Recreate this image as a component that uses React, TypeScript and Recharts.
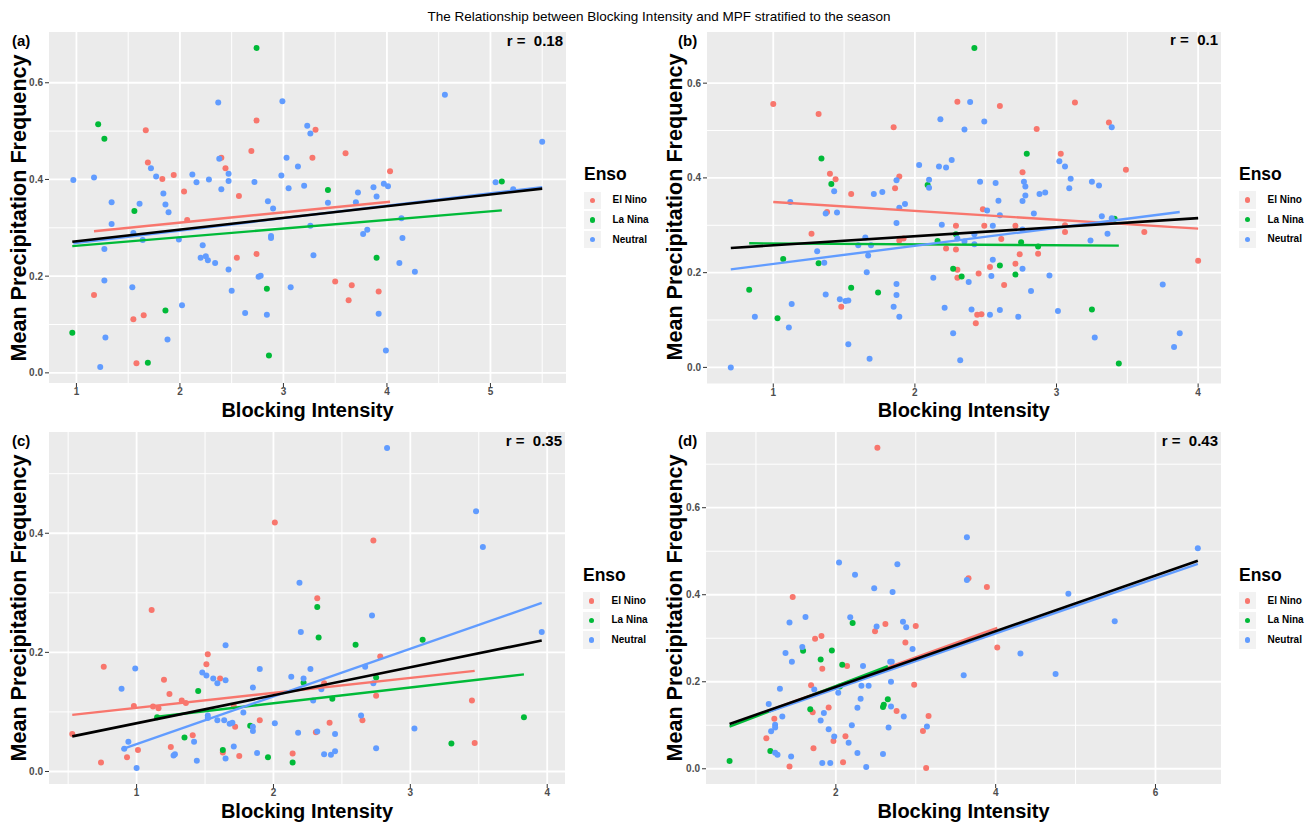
import { ScatterChart, Scatter, XAxis, YAxis, CartesianGrid } from 'recharts';

const FONT = '"Liberation Sans", Arial, Helvetica, sans-serif';
const COLORS = { elNino: '#F8766D', laNina: '#00BA38', neutral: '#619CFF', all: '#000000' };
const GROUPS = ['El Nino', 'La Nina', 'Neutral'];

type Pt = [number, number];

// ---- panel (a)
const aElNino: Pt[] = [[1.67,0.502],[1.69,0.435],[1.83,0.401],[1.94,0.409],[2.04,0.375],[2.07,0.316],[2.40,0.445],[2.44,0.423],[2.57,0.366],[2.69,0.459],[2.74,0.522],[2.74,0.246],[2.55,0.238],[1.17,0.161],[1.55,0.111],[1.65,0.119],[1.58,0.020],[3.31,0.503],[3.28,0.445],[3.60,0.454],[4.03,0.417],[3.50,0.189],[3.66,0.181],[3.63,0.150],[3.92,0.168]];
const aLaNina: Pt[] = [[2.74,0.672],[1.21,0.514],[1.27,0.484],[1.56,0.335],[1.86,0.129],[0.96,0.083],[1.69,0.021],[2.84,0.174],[2.86,0.036],[3.43,0.378],[3.90,0.238],[5.11,0.396]];
const aNeutral: Pt[] = [[0.97,0.399],[1.17,0.404],[1.34,0.353],[1.34,0.308],[1.27,0.256],[1.27,0.191],[1.28,0.073],[1.23,0.012],[1.54,0.177],[1.55,0.289],[1.61,0.350],[1.64,0.275],[1.72,0.423],[1.77,0.406],[1.84,0.371],[1.86,0.348],[1.89,0.332],[1.88,0.069],[1.99,0.276],[2.02,0.140],[2.12,0.410],[2.16,0.394],[2.28,0.400],[2.22,0.264],[2.20,0.238],[2.25,0.241],[2.27,0.233],[2.34,0.227],[2.37,0.559],[2.38,0.443],[2.40,0.380],[2.47,0.412],[2.47,0.397],[2.47,0.214],[2.50,0.170],[2.63,0.124],[2.72,0.395],[2.76,0.199],[2.78,0.201],[2.85,0.355],[2.90,0.340],[2.88,0.283],[2.88,0.279],[2.84,0.120],[2.98,0.408],[2.99,0.562],[3.03,0.445],[3.05,0.382],[3.07,0.177],[3.14,0.427],[3.20,0.387],[3.23,0.511],[3.26,0.495],[3.26,0.304],[3.29,0.243],[3.43,0.352],[3.70,0.353],[3.72,0.373],[3.77,0.287],[3.81,0.296],[3.87,0.384],[3.90,0.365],[3.97,0.391],[4.01,0.386],[4.14,0.320],[4.15,0.279],[4.12,0.227],[4.27,0.209],[3.92,0.122],[3.99,0.046],[4.56,0.575],[5.05,0.394],[5.22,0.380],[5.50,0.478]];
const aFitElNino: Pt[] = [[1.17,0.293],[4.03,0.354]];
const aFitLaNina: Pt[] = [[0.96,0.262],[5.11,0.336]];
const aFitNeutral: Pt[] = [[0.97,0.268],[5.50,0.384]];
const aFitAll: Pt[] = [[0.96,0.271],[5.50,0.381]];

// ---- panel (b)
const bElNino: Pt[] = [[1.00,0.556],[1.32,0.535],[1.85,0.507],[1.40,0.409],[1.44,0.397],[1.55,0.366],[1.38,0.328],[1.27,0.282],[1.86,0.378],[1.89,0.403],[1.89,0.268],[1.92,0.272],[1.48,0.128],[2.30,0.561],[2.29,0.299],[2.22,0.251],[2.29,0.249],[2.30,0.206],[2.30,0.189],[2.60,0.552],[2.86,0.503],[3.13,0.559],[3.37,0.517],[3.03,0.451],[3.49,0.417],[2.76,0.412],[2.48,0.334],[2.49,0.299],[2.71,0.299],[2.61,0.271],[3.06,0.300],[3.06,0.286],[3.62,0.286],[2.74,0.239],[2.87,0.240],[2.71,0.219],[2.53,0.212],[2.45,0.198],[2.63,0.174],[2.44,0.111],[2.47,0.112],[2.43,0.093],[4.00,0.225]];
const bLaNina: Pt[] = [[1.34,0.441],[1.41,0.387],[1.07,0.229],[1.32,0.220],[0.83,0.164],[1.03,0.104],[1.55,0.168],[1.74,0.158],[2.09,0.385],[2.16,0.267],[2.29,0.281],[2.27,0.208],[2.33,0.192],[2.42,0.674],[2.79,0.451],[2.75,0.264],[2.87,0.255],[2.60,0.215],[2.71,0.196],[3.25,0.122],[3.41,0.314],[3.44,0.008]];
const bNeutral: Pt[] = [[0.70,0.000],[0.87,0.107],[1.11,0.084],[1.13,0.134],[1.12,0.349],[1.37,0.325],[1.45,0.327],[1.43,0.372],[1.31,0.245],[1.36,0.221],[1.37,0.154],[1.47,0.144],[1.51,0.140],[1.53,0.141],[1.53,0.049],[1.60,0.258],[1.65,0.274],[1.69,0.258],[1.67,0.236],[1.66,0.201],[1.68,0.018],[1.71,0.366],[1.77,0.370],[1.87,0.395],[1.89,0.337],[1.93,0.345],[1.87,0.305],[1.87,0.176],[1.87,0.153],[1.85,0.128],[1.89,0.107],[2.03,0.427],[2.10,0.396],[2.10,0.379],[2.18,0.524],[2.17,0.424],[2.22,0.422],[2.26,0.438],[2.19,0.301],[2.13,0.189],[2.21,0.126],[2.27,0.072],[2.32,0.015],[2.30,0.272],[2.35,0.502],[2.35,0.266],[2.39,0.560],[2.49,0.519],[2.46,0.392],[2.57,0.389],[2.59,0.352],[2.51,0.331],[2.60,0.321],[2.55,0.299],[2.42,0.281],[2.42,0.260],[2.77,0.392],[2.78,0.382],[2.78,0.363],[2.76,0.351],[2.84,0.325],[2.88,0.366],[2.92,0.369],[2.76,0.291],[2.76,0.208],[2.55,0.227],[2.54,0.193],[2.38,0.180],[2.82,0.161],[2.95,0.194],[2.40,0.122],[2.53,0.111],[2.60,0.121],[2.73,0.107],[3.02,0.435],[3.06,0.424],[3.10,0.398],[3.09,0.378],[3.25,0.392],[3.30,0.384],[3.32,0.319],[3.36,0.282],[3.24,0.268],[3.39,0.507],[3.01,0.119],[3.27,0.063],[3.75,0.175],[3.83,0.043],[3.87,0.072],[3.39,0.315]];
const bFitElNino: Pt[] = [[1.00,0.349],[4.00,0.293]];
const bFitLaNina: Pt[] = [[0.83,0.262],[3.44,0.257]];
const bFitNeutral: Pt[] = [[0.70,0.207],[3.87,0.328]];
const bFitAll: Pt[] = [[0.70,0.252],[4.00,0.315]];

// ---- panel (c)
const cElNino: Pt[] = [[0.53,0.063],[0.76,0.176],[0.74,0.015],[0.93,0.024],[1.01,0.036],[0.98,0.110],[1.11,0.271],[1.12,0.109],[1.16,0.106],[1.20,0.154],[1.24,0.130],[1.25,0.041],[1.33,0.119],[1.36,0.115],[1.41,0.061],[1.51,0.180],[1.52,0.197],[1.61,0.156],[1.72,0.075],[1.75,0.026],[1.63,0.032],[1.90,0.086],[2.01,0.418],[2.14,0.030],[1.71,0.110],[2.73,0.388],[2.32,0.291],[2.78,0.193],[2.37,0.148],[2.75,0.127],[2.41,0.082],[2.65,0.086],[2.31,0.066],[3.45,0.119],[3.47,0.048]];
const cLaNina: Pt[] = [[1.45,0.135],[1.15,0.091],[1.35,0.057],[1.63,0.036],[1.83,0.077],[1.96,0.024],[2.14,0.015],[2.32,0.276],[2.33,0.225],[2.60,0.213],[3.09,0.221],[2.75,0.158],[2.22,0.149],[2.43,0.122],[3.30,0.047],[3.83,0.091]];
const cNeutral: Pt[] = [[0.89,0.139],[0.99,0.173],[0.91,0.038],[0.94,0.050],[1.00,0.006],[1.27,0.027],[1.28,0.029],[1.42,0.050],[1.44,0.018],[1.48,0.166],[1.51,0.161],[1.56,0.156],[1.59,0.148],[1.65,0.153],[1.65,0.212],[1.52,0.094],[1.52,0.090],[1.59,0.086],[1.64,0.086],[1.68,0.080],[1.70,0.082],[1.65,0.022],[1.71,0.042],[1.78,0.099],[1.85,0.141],[1.85,0.075],[1.85,0.068],[1.88,0.031],[1.90,0.172],[2.01,0.081],[2.13,0.159],[2.18,0.065],[2.19,0.317],[2.20,0.234],[2.83,0.543],[3.48,0.437],[3.53,0.377],[2.72,0.262],[2.22,0.156],[2.27,0.172],[2.35,0.138],[2.29,0.119],[2.67,0.176],[2.73,0.148],[2.64,0.094],[2.32,0.067],[2.45,0.063],[2.37,0.029],[2.42,0.028],[2.45,0.034],[2.75,0.039],[3.03,0.072],[3.96,0.234]];
const cFitElNino: Pt[] = [[0.53,0.095],[3.47,0.169]];
const cFitLaNina: Pt[] = [[1.15,0.092],[3.83,0.163]];
const cFitNeutral: Pt[] = [[0.89,0.037],[3.96,0.283]];
const cFitAll: Pt[] = [[0.53,0.059],[3.96,0.220]];

// ---- panel (d)
const dElNino: Pt[] = [[2.52,0.738],[1.46,0.395],[1.74,0.299],[1.82,0.305],[1.83,0.230],[2.49,0.316],[2.62,0.333],[3.00,0.328],[2.87,0.290],[2.98,0.193],[2.14,0.236],[1.69,0.192],[1.71,0.130],[1.91,0.141],[1.23,0.115],[1.13,0.070],[1.72,0.047],[1.97,0.064],[2.12,0.075],[2.09,0.015],[1.42,0.005],[2.76,0.133],[3.16,0.121],[3.09,0.087],[3.13,0.002],[3.66,0.438],[3.89,0.418],[4.02,0.279]];
const dLaNina: Pt[] = [[0.67,0.018],[1.18,0.041],[1.59,0.271],[1.95,0.272],[1.81,0.251],[2.08,0.239],[2.21,0.335],[1.68,0.137],[2.65,0.160],[2.60,0.147],[2.59,0.142],[2.05,0.189]];
const dNeutral: Pt[] = [[2.04,0.474],[2.24,0.446],[2.77,0.470],[2.48,0.415],[2.71,0.406],[1.42,0.336],[1.62,0.349],[2.18,0.348],[2.51,0.327],[2.84,0.338],[2.88,0.325],[1.37,0.266],[1.45,0.246],[1.58,0.280],[2.96,0.275],[2.34,0.236],[2.68,0.246],[2.70,0.246],[2.69,0.200],[1.73,0.182],[2.32,0.191],[2.41,0.191],[2.03,0.175],[1.30,0.184],[1.16,0.149],[2.31,0.161],[2.27,0.140],[2.69,0.143],[2.85,0.120],[1.33,0.120],[1.24,0.101],[1.24,0.095],[1.19,0.086],[1.85,0.128],[1.81,0.111],[1.91,0.091],[1.98,0.074],[2.20,0.100],[2.16,0.060],[2.66,0.095],[3.14,0.097],[1.24,0.037],[1.27,0.032],[1.44,0.028],[1.83,0.013],[1.93,0.013],[2.27,0.036],[2.59,0.034],[2.38,0.004],[3.64,0.532],[3.64,0.434],[3.60,0.215],[4.91,0.402],[5.49,0.339],[4.31,0.265],[4.75,0.218],[6.53,0.507]];
const dFitElNino: Pt[] = [[1.13,0.132],[4.02,0.324]];
const dFitLaNina: Pt[] = [[0.67,0.097],[2.65,0.236]];
const dFitNeutral: Pt[] = [[1.16,0.131],[6.53,0.471]];
const dFitAll: Pt[] = [[0.67,0.103],[6.53,0.478]];

const toXY = (pts: Pt[]) => pts.map(([x, y]) => ({ x, y }));

const dot = (color: string) => (props: any) => (
  <circle cx={props.cx} cy={props.cy} r={3} fill={color} />
);
const noDot = () => <g />;

interface PanelProps {
  tag: string;
  r: string;
  box: { x0: number; x1: number; y0: number; y1: number };
  tagX: number;
  yTitleX: number;
  xDomain: [number, number];
  yDomain: [number, number];
  xTicks: number[];
  xMinor: number[];
  yTicks: number[];
  yMinor: number[];
  points: [Pt[], Pt[], Pt[]];
  fits: [Pt[], Pt[], Pt[], Pt[]];
}

const YW = 40;
const XH = 22;

function Panel(p: PanelProps) {
  const { x0, x1, y0, y1 } = p.box;
  const w = x1 - x0;
  const h = y1 - y0;
  const midY = (y0 + y1) / 2;
  const legendX = x1 + 18;
  const legendY = midY - 32.5;
  const colors = [COLORS.elNino, COLORS.laNina, COLORS.neutral];
  const tickStyle = { fill: '#4D4D4D', fontSize: 10, fontWeight: 'bold', fontFamily: FONT };

  return (
    <>
      <div style={{ position: 'absolute', left: x0 - YW, top: y0, width: w + YW, height: h + XH }}>
        <ScatterChart width={w + YW} height={h + XH} margin={{ top: 0, right: 0, bottom: 0, left: 0 }}>
          <CartesianGrid fill="#EBEBEB" fillOpacity={1} stroke="#FFFFFF" strokeWidth={1} horizontalValues={p.yMinor} verticalValues={p.xMinor} />
          <CartesianGrid stroke="#FFFFFF" strokeWidth={1.8} horizontalValues={p.yTicks} verticalValues={p.xTicks} />
          <XAxis
            type="number"
            dataKey="x"
            domain={p.xDomain}
            ticks={p.xTicks}
            allowDataOverflow
            axisLine={false}
            tickSize={4}
            tickMargin={1}
            tickLine={{ stroke: '#333333' }}
            tick={tickStyle}
            height={XH}
            tickFormatter={(v: number) => String(v)}
          />
          <YAxis
            type="number"
            dataKey="y"
            domain={p.yDomain}
            ticks={p.yTicks}
            allowDataOverflow
            axisLine={false}
            tickSize={4}
            tickMargin={2}
            tickLine={{ stroke: '#333333' }}
            tick={tickStyle}
            width={YW}
            tickFormatter={(v: number) => v.toFixed(1)}
          />
          {p.points.map((pts, i) => (
            <Scatter key={GROUPS[i]} name={GROUPS[i]} data={toXY(pts)} shape={dot(colors[i])} isAnimationActive={false} />
          ))}
          {p.fits.map((pts, i) => (
            <Scatter
              key={'fit' + i}
              data={toXY(pts)}
              shape={noDot}
              line={{ stroke: i < 3 ? colors[i] : COLORS.all, strokeWidth: i < 3 ? 2.4 : 2.6 }}
              isAnimationActive={false}
            />
          ))}
        </ScatterChart>
      </div>

      <div style={{ position: 'absolute', left: p.tagX, top: y0 + 8, transform: 'translateY(-50%)', fontSize: 15, fontWeight: 'bold', lineHeight: 1 }}>
        {p.tag}
      </div>
      <div style={{ position: 'absolute', right: 1316 - (x1 - 3), top: y0 + 7.5, transform: 'translateY(-50%)', fontSize: 15, fontWeight: 'bold', lineHeight: 1, whiteSpace: 'pre' }}>
        {'r =  ' + p.r}
      </div>
      <div style={{ position: 'absolute', left: p.yTitleX, top: midY, transform: 'translate(-50%, -50%) rotate(-90deg)', fontSize: 21.6, fontWeight: 'bold', lineHeight: 1, whiteSpace: 'nowrap' }}>
        Mean Precipitation Frequency
      </div>
      <div style={{ position: 'absolute', left: (x0 + x1) / 2, top: y1 + 27, transform: 'translate(-50%, -50%)', fontSize: 20, fontWeight: 'bold', lineHeight: 1, whiteSpace: 'nowrap' }}>
        Blocking Intensity
      </div>

      <div style={{ position: 'absolute', left: legendX, top: legendY, transform: 'translateY(-50%)', fontSize: 17.5, fontWeight: 'bold', lineHeight: 1 }}>
        Enso
      </div>
      {GROUPS.map((g, i) => {
        const cy = legendY + 25.3 + i * 19.6;
        return (
          <div key={g}>
            <div style={{ position: 'absolute', left: legendX, top: cy - 8.6, width: 17.3, height: 17.3, background: '#F2F2F2' }}>
              <div style={{ position: 'absolute', left: 5.9, top: 5.9, width: 5.5, height: 5.5, borderRadius: '50%', background: colors[i] }} />
            </div>
            <div style={{ position: 'absolute', left: legendX + 28.5, top: cy, transform: 'translateY(-50%)', fontSize: 10, fontWeight: 'bold', lineHeight: 1, whiteSpace: 'nowrap' }}>
              {g}
            </div>
          </div>
        );
      })}
    </>
  );
}

export default function App() {
  return (
    <div style={{ position: 'absolute', left: 0, top: 0, width: 1316, height: 828, background: '#FFFFFF', fontFamily: FONT, color: '#000000', overflow: 'hidden' }}>
      <div style={{ position: 'absolute', left: 659, top: 17, transform: 'translate(-50%, -50%)', fontSize: 13.5, lineHeight: 1, whiteSpace: 'nowrap' }}>
        The Relationship between Blocking Intensity and MPF stratified to the season
      </div>
      <Panel
        tag="(a)" r="0.18" tagX={12} yTitleX={18.5}
        box={{ x0: 49, x1: 566, y0: 32, y1: 383 }}
        xDomain={[0.735, 5.73]} yDomain={[-0.021, 0.705]}
        xTicks={[1, 2, 3, 4, 5]} xMinor={[1.5, 2.5, 3.5, 4.5, 5.5]}
        yTicks={[0, 0.2, 0.4, 0.6]} yMinor={[0.1, 0.3, 0.5]}
        points={[aElNino, aLaNina, aNeutral]}
        fits={[aFitElNino, aFitLaNina, aFitNeutral, aFitAll]}
      />
      <Panel
        tag="(b)" r="0.1" tagX={678} yTitleX={675}
        box={{ x0: 706.5, x1: 1221, y0: 31.5, y1: 383 }}
        xDomain={[0.532, 4.165]} yDomain={[-0.034, 0.708]}
        xTicks={[1, 2, 3, 4]} xMinor={[1.5, 2.5, 3.5]}
        yTicks={[0, 0.2, 0.4, 0.6]} yMinor={[0.1, 0.3, 0.5]}
        points={[bElNino, bLaNina, bNeutral]}
        fits={[bFitElNino, bFitLaNina, bFitNeutral, bFitAll]}
      />
      <Panel
        tag="(c)" r="0.35" tagX={12} yTitleX={18.5}
        box={{ x0: 49, x1: 565, y0: 432, y1: 784 }}
        xDomain={[0.36, 4.13]} yDomain={[-0.021, 0.57]}
        xTicks={[1, 2, 3, 4]} xMinor={[0.5, 1.5, 2.5, 3.5]}
        yTicks={[0, 0.2, 0.4]} yMinor={[0.1, 0.3, 0.5]}
        points={[cElNino, cLaNina, cNeutral]}
        fits={[cFitElNino, cFitLaNina, cFitNeutral, cFitAll]}
      />
      <Panel
        tag="(d)" r="0.43" tagX={678} yTitleX={675}
        box={{ x0: 706, x1: 1221, y0: 432, y1: 784 }}
        xDomain={[0.375, 6.82]} yDomain={[-0.035, 0.774]}
        xTicks={[2, 4, 6]} xMinor={[1, 3, 5]}
        yTicks={[0, 0.2, 0.4, 0.6]} yMinor={[0.1, 0.3, 0.5, 0.7]}
        points={[dElNino, dLaNina, dNeutral]}
        fits={[dFitElNino, dFitLaNina, dFitNeutral, dFitAll]}
      />
    </div>
  );
}
